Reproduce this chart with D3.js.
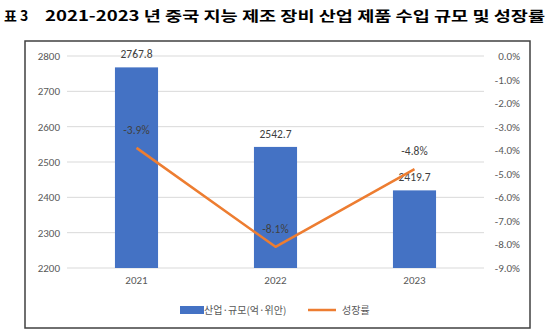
<!DOCTYPE html>
<html><head><meta charset="utf-8">
<script src="https://cdn.jsdelivr.net/npm/d3@7"></script>
<style>body{margin:0;background:#fff}svg{display:block}</style>
</head><body><svg id="c" width="549" height="336"></svg>
<script>
const categories = ["2021","2022","2023"];
const scaleValues = [2767.8, 2542.7, 2419.7];
const growthValues = [-3.9, -8.1, -4.8];
const leftTicks = [2200,2300,2400,2500,2600,2700,2800];
const rightTicks = [0,-1,-2,-3,-4,-5,-6,-7,-8,-9];
const titlePrefix = "표 3";
const titleText = "2021-2023 년 중국 지능 제조 장비 산업 제품 수입 규모 및 성장률";
const legendLabels = ["산업·규모(억·위안)", "성장률"];

const svg = d3.select("#c");
const font = "Calibri, Carlito, 'Noto Sans CJK KR', 'Liberation Sans', sans-serif";
const krFont = "'Noto Sans CJK KR', sans-serif";
const gray = "#595959";

svg.append("text").attr("x",4).attr("y",21).attr("font-family",krFont).attr("font-weight","bold")
  .attr("font-size",14).attr("fill","#000").text(titlePrefix);
svg.append("text").attr("x",45).attr("y",21).attr("font-family",krFont).attr("font-weight","bold")
  .attr("font-size",14).attr("fill","#000").attr("textLength",500).attr("lengthAdjust","spacingAndGlyphs").text(titleText);

svg.append("rect").attr("x",25).attr("y",41).attr("width",505).attr("height",287)
  .attr("fill","none").attr("stroke","#404040").attr("stroke-width",1.5);

const x = d3.scaleBand().domain(categories).range([67,484]).paddingInner(0.69).paddingOuter(0.345);
const yL = d3.scaleLinear().domain([2200,2800]).range([268,56]);
const yR = d3.scaleLinear().domain([-9,0]).range([268,56]);

// gridlines
svg.append("g").selectAll("line").data(leftTicks).join("line")
  .attr("x1",67).attr("x2",484).attr("y1",d=>yL(d)).attr("y2",d=>yL(d))
  .attr("stroke","#d9d9d9").attr("stroke-width",1);

// left axis
const gl = svg.append("g").attr("transform","translate(60,0)")
  .call(d3.axisLeft(yL).tickValues(leftTicks).tickSize(0).tickPadding(0).tickFormat(d3.format("d")));
gl.select(".domain").remove();
gl.selectAll("text").attr("font-family",font).attr("font-size",11).attr("fill",gray);

// right axis
const gr = svg.append("g").attr("transform","translate(520,0)")
  .call(d3.axisRight(yR).tickValues(rightTicks).tickSize(0).tickPadding(0).tickFormat(d=>d.toFixed(1)+"%"));
gr.select(".domain").remove();
gr.selectAll("text").attr("font-family",font).attr("font-size",11).attr("fill",gray).attr("text-anchor","end");

// x axis
const gx = svg.append("g").attr("transform","translate(0,276)")
  .call(d3.axisBottom(x).tickSize(0).tickPadding(0));
gx.select(".domain").remove();
gx.selectAll("text").attr("font-family",font).attr("font-size",11).attr("fill",gray);

// bars
svg.append("g").selectAll("rect").data(scaleValues).join("rect")
  .attr("x",(d,i)=>x(categories[i])).attr("width",x.bandwidth())
  .attr("y",d=>yL(d)).attr("height",d=>yL(2200)-yL(d)).attr("fill","#4472C4");

// bar labels
svg.append("g").selectAll("text").data(scaleValues).join("text")
  .attr("x",(d,i)=>x(categories[i])+x.bandwidth()/2).attr("y",d=>yL(d)-9)
  .attr("text-anchor","middle").attr("font-family",font).attr("font-size",11.5).attr("fill","#404040")
  .text(d=>d.toFixed(1));

// line
const line = d3.line().x((d,i)=>x(categories[i])+x.bandwidth()/2).y(d=>yR(d));
svg.append("path").datum(growthValues).attr("d",line).attr("fill","none")
  .attr("stroke","#ED7D31").attr("stroke-width",2.5).attr("stroke-linejoin","round");

svg.append("g").selectAll("text").data(growthValues).join("text")
  .attr("x",(d,i)=>x(categories[i])+x.bandwidth()/2).attr("y",d=>yR(d)-14)
  .attr("text-anchor","middle").attr("font-family",font).attr("font-size",11.5).attr("fill","#404040")
  .text(d=>d.toFixed(1)+"%");

// legend
const lg = svg.append("g");
lg.append("rect").attr("x",180).attr("y",306).attr("width",24).attr("height",8).attr("fill","#4472C4");
lg.append("text").attr("x",204).attr("y",314).attr("font-family",krFont).attr("font-size",10).attr("fill",gray).text(legendLabels[0]);
lg.append("line").attr("x1",308).attr("x2",336).attr("y1",310).attr("y2",310).attr("stroke","#ED7D31").attr("stroke-width",2.5);
lg.append("text").attr("x",342).attr("y",314).attr("font-family",krFont).attr("font-size",10).attr("fill",gray).text(legendLabels[1]);
</script></body></html>
